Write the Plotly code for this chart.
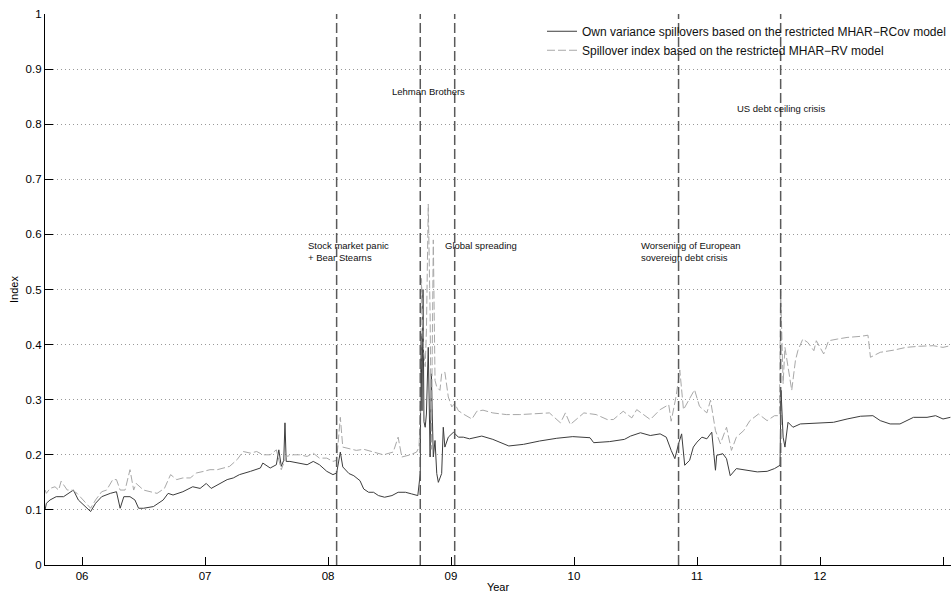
import plotly.graph_objects as go

# ---- data (decimal years, index values) ----
own_years = [2005.70, 2005.71, 2005.74, 2005.79, 2005.85, 2005.89, 2005.93, 2005.97, 2006.01, 2006.07,
             2006.11, 2006.16, 2006.23, 2006.28, 2006.31, 2006.34, 2006.39, 2006.43, 2006.46, 2006.50,
             2006.58, 2006.66, 2006.70, 2006.74, 2006.82, 2006.90, 2006.96, 2007.01, 2007.05, 2007.12,
             2007.18, 2007.23, 2007.28, 2007.37, 2007.45, 2007.47, 2007.53, 2007.58, 2007.60, 2007.62,
             2007.64, 2007.65, 2007.66, 2007.69, 2007.77, 2007.83, 2007.88, 2007.93, 2007.99, 2008.04,
             2008.07, 2008.10, 2008.12, 2008.17, 2008.21, 2008.26, 2008.29, 2008.33, 2008.37, 2008.41,
             2008.46, 2008.52, 2008.57, 2008.63, 2008.68, 2008.73, 2008.75, 2008.756, 2008.764, 2008.772,
             2008.78, 2008.79, 2008.80, 2008.815, 2008.83, 2008.84, 2008.856, 2008.87, 2008.884, 2008.897,
             2008.924, 2008.937, 2008.95, 2008.978, 2009.02, 2009.06, 2009.10, 2009.15, 2009.25, 2009.34,
             2009.47, 2009.59, 2009.72, 2009.86, 2009.99, 2010.13, 2010.16, 2010.29, 2010.41, 2010.46,
             2010.54, 2010.62, 2010.70, 2010.75, 2010.79, 2010.82, 2010.85, 2010.875, 2010.90, 2010.94,
             2010.97, 2011.00, 2011.04, 2011.08, 2011.12, 2011.15, 2011.16, 2011.21, 2011.24, 2011.27,
             2011.32, 2011.40, 2011.49, 2011.57, 2011.63, 2011.675, 2011.683, 2011.70, 2011.715, 2011.74,
             2011.78, 2011.84, 2012.00, 2012.11, 2012.22, 2012.33, 2012.43, 2012.49, 2012.57, 2012.65,
             2012.76, 2012.87, 2012.94, 2013.00, 2013.06]
own_vals = [0.100, 0.112, 0.118, 0.124, 0.124, 0.130, 0.136, 0.118, 0.109, 0.097,
            0.112, 0.124, 0.130, 0.133, 0.103, 0.124, 0.124, 0.118, 0.103, 0.103,
            0.106, 0.118, 0.130, 0.127, 0.133, 0.142, 0.139, 0.148, 0.139, 0.148,
            0.155, 0.158, 0.164, 0.170, 0.176, 0.185, 0.176, 0.182, 0.209, 0.179,
            0.190, 0.258, 0.188, 0.188, 0.185, 0.182, 0.188, 0.182, 0.170, 0.164,
            0.167, 0.205, 0.178, 0.166, 0.162, 0.153, 0.138, 0.132, 0.132, 0.126,
            0.123, 0.126, 0.132, 0.132, 0.129, 0.126, 0.166, 0.420, 0.280, 0.500,
            0.260, 0.250, 0.274, 0.395, 0.196, 0.347, 0.196, 0.226, 0.166, 0.150,
            0.166, 0.250, 0.214, 0.232, 0.241, 0.232, 0.232, 0.229, 0.234, 0.228,
            0.216, 0.219, 0.225, 0.230, 0.233, 0.231, 0.222, 0.224, 0.228, 0.234,
            0.240, 0.235, 0.238, 0.232, 0.208, 0.193, 0.220, 0.238, 0.181, 0.190,
            0.214, 0.223, 0.232, 0.229, 0.241, 0.172, 0.199, 0.202, 0.193, 0.162,
            0.175, 0.172, 0.169, 0.170, 0.175, 0.181, 0.317, 0.232, 0.214, 0.259,
            0.250, 0.256, 0.257, 0.259, 0.265, 0.270, 0.271, 0.262, 0.256, 0.256,
            0.268, 0.268, 0.271, 0.265, 0.268]

spill_years = [2005.70, 2005.71, 2005.74, 2005.78, 2005.81, 2005.83, 2005.88, 2005.92, 2005.96, 2006.01,
               2006.07, 2006.11, 2006.16, 2006.20, 2006.25, 2006.28, 2006.31, 2006.35, 2006.39, 2006.42,
               2006.44, 2006.50, 2006.55, 2006.61, 2006.67, 2006.72, 2006.77, 2006.82, 2006.88, 2006.93,
               2006.99, 2007.04, 2007.10, 2007.15, 2007.20, 2007.26, 2007.31, 2007.37, 2007.42, 2007.47,
               2007.53, 2007.58, 2007.62, 2007.66, 2007.72, 2007.77, 2007.83, 2007.88, 2007.93, 2007.99,
               2008.04, 2008.07, 2008.10, 2008.12, 2008.18, 2008.23, 2008.29, 2008.37, 2008.45, 2008.53,
               2008.57, 2008.60, 2008.67, 2008.72, 2008.74, 2008.75, 2008.76, 2008.775, 2008.79, 2008.80,
               2008.815, 2008.83, 2008.84, 2008.856, 2008.87, 2008.884, 2008.91, 2008.924, 2008.95, 2008.978,
               2009.006, 2009.03, 2009.06, 2009.10, 2009.15, 2009.17, 2009.21, 2009.26, 2009.34, 2009.45,
               2009.56, 2009.67, 2009.80, 2009.89, 2009.93, 2009.97, 2010.08, 2010.18, 2010.27, 2010.32,
               2010.40, 2010.47, 2010.51, 2010.62, 2010.70, 2010.77, 2010.79, 2010.83, 2010.86, 2010.89,
               2010.94, 2010.98, 2011.02, 2011.08, 2011.11, 2011.15, 2011.19, 2011.24, 2011.28, 2011.32,
               2011.38, 2011.43, 2011.50, 2011.57, 2011.63, 2011.67, 2011.68, 2011.70, 2011.715, 2011.74,
               2011.77, 2011.80, 2011.82, 2011.86, 2011.90, 2011.95, 2011.97, 2012.03, 2012.07, 2012.14,
               2012.22, 2012.33, 2012.39, 2012.41, 2012.49, 2012.60, 2012.70, 2012.81, 2012.92, 2013.00,
               2013.06]
spill_vals = [0.136, 0.130, 0.139, 0.142, 0.136, 0.152, 0.136, 0.136, 0.130, 0.118,
              0.103, 0.118, 0.133, 0.136, 0.155, 0.155, 0.136, 0.136, 0.173, 0.136,
              0.148, 0.136, 0.133, 0.130, 0.139, 0.164, 0.155, 0.158, 0.158, 0.167,
              0.170, 0.173, 0.173, 0.176, 0.179, 0.191, 0.206, 0.203, 0.206, 0.200,
              0.200, 0.209, 0.173, 0.197, 0.200, 0.200, 0.197, 0.203, 0.194, 0.194,
              0.188, 0.190, 0.268, 0.214, 0.210, 0.208, 0.210, 0.205, 0.200, 0.205,
              0.232, 0.196, 0.200, 0.205, 0.214, 0.274, 0.520, 0.395, 0.360, 0.425,
              0.655, 0.456, 0.210, 0.590, 0.335, 0.323, 0.317, 0.347, 0.350, 0.305,
              0.287, 0.293, 0.280, 0.274, 0.268, 0.265, 0.279, 0.281, 0.276, 0.273,
              0.273, 0.275, 0.276, 0.258, 0.276, 0.255, 0.276, 0.273, 0.264, 0.264,
              0.279, 0.267, 0.282, 0.264, 0.282, 0.291, 0.261, 0.306, 0.354, 0.282,
              0.303, 0.318, 0.288, 0.276, 0.299, 0.244, 0.220, 0.250, 0.208, 0.232,
              0.244, 0.262, 0.274, 0.262, 0.271, 0.271, 0.498, 0.329, 0.395, 0.359,
              0.317, 0.371, 0.389, 0.410, 0.404, 0.389, 0.407, 0.383, 0.407, 0.410,
              0.413, 0.415, 0.417, 0.377, 0.386, 0.390, 0.395, 0.397, 0.398, 0.395,
              0.398]

event_dates = [2008.07, 2008.75, 2009.03, 2010.85, 2011.68]
event_labels = ["Stock market panic<br>+ Bear Stearns", "Lehman Brothers", "Global spreading",
                "Worsening of European<br>sovereign debt crisis", "US debt ceiling crisis"]
label_x = [2007.82, 2008.50, 2008.935, 2010.53, 2011.31]
label_y = [0.569, 0.859, 0.58, 0.569, 0.828]

tick_years = [2006, 2007, 2008, 2009, 2010, 2011, 2012, 2013]
tick_text = ["06", "07", "08", "09", "10", "11", "12", ""]

FONT = "Liberation Sans, Arial, Helvetica, sans-serif"

fig = go.Figure()
fig.add_trace(go.Scatter(x=own_years, y=own_vals, mode="lines",
                         name="Own variance spillovers based on the restricted MHAR\u2212RCov model",
                         line=dict(color="#3c3c3c", width=1)))
fig.add_trace(go.Scatter(x=spill_years, y=spill_vals, mode="lines",
                         name="Spillover index based on the restricted MHAR\u2212RV model",
                         line=dict(color="#a8a8a8", width=1, dash="8px,3px")))

for d in event_dates:
    fig.add_shape(type="line", x0=d, x1=d, y0=0, y1=1, xref="x", yref="y",
                  line=dict(color="#5a5a5a", width=1.5, dash="10px,4px"), layer="above")

for t, lx, ly in zip(event_labels, label_x, label_y):
    fig.add_annotation(x=lx, y=ly, text=t, showarrow=False, xanchor="left", yanchor="middle",
                       align="left", font=dict(size=9.5, color="#111111", family=FONT))

fig.update_layout(
    width=951, height=596,
    margin=dict(l=45, r=0, t=14, b=31),
    plot_bgcolor="white", paper_bgcolor="white",
    font=dict(family=FONT, size=11.5, color="#111111"),
    showlegend=True,
    legend=dict(x=1, y=0.995, xanchor="right", yanchor="top", bgcolor="rgba(255,255,255,0)",
                font=dict(size=12, family=FONT, color="#111111"), tracegroupgap=0),
    xaxis=dict(range=[2005.699, 2013.065], tickvals=tick_years, ticktext=tick_text,
               showgrid=False, zeroline=False, showline=True, linecolor="black", linewidth=1.2,
               ticks="inside", ticklen=8, tickcolor="black", tickfont=dict(size=11.5, color="black"),
               title=dict(text="Year", font=dict(size=11, color="black"), standoff=2)),
    yaxis=dict(range=[0, 1], tickvals=[i / 10 for i in range(11)],
               ticktext=["0", "0.1", "0.2", "0.3", "0.4", "0.5", "0.6", "0.7", "0.8", "0.9", "1"],
               showgrid=True, gridcolor="#999999", griddash="1px,3px", gridwidth=1,
               zeroline=False, showline=True, linecolor="black", linewidth=1.2,
               ticks="inside", ticklen=8, tickcolor="black", tickfont=dict(size=11.5, color="black"),
               title=dict(text="Index", font=dict(size=11, color="black"), standoff=4)),
)

fig.write_html("out.html")
